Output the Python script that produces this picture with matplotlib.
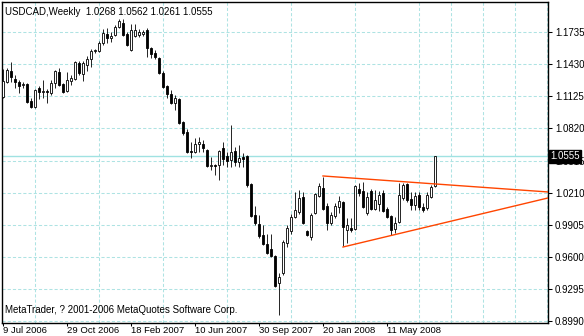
import matplotlib
matplotlib.use("Agg")
import matplotlib.pyplot as plt
import matplotlib.transforms as mtransforms
import numpy as np
import pandas as pd

plt.rcParams['font.family'] = ['Liberation Sans', 'DejaVu Sans']

# weekly USDCAD candles
dates = pd.date_range('2006-07-09', periods=109, freq='7D')

opens = [1.1118, 1.1261, 1.1365, 1.1289, 1.1261, 1.1232, 1.1242, 1.1080, 1.1023, 1.1204,
         1.1166, 1.1175, 1.1156, 1.1251, 1.1356, 1.1242, 1.1175, 1.1270, 1.1289, 1.1441,
         1.1337, 1.1422, 1.1479, 1.1555, 1.1555, 1.1631, 1.1717, 1.1679, 1.1707, 1.1783,
         1.1821, 1.1717, 1.1565, 1.1698, 1.1707, 1.1717, 1.1755, 1.1584, 1.1536, 1.1489,
         1.1346, 1.1223, 1.1147, 1.1061, 1.1099, 1.0881, 1.0786, 1.0605, 1.0596, 1.0672,
         1.0672, 1.0615, 1.0463, 1.0472, 1.0472, 1.0634, 1.0558, 1.0520, 1.0605, 1.0501,
         1.0548, 1.0558, 1.0292, 0.9997, 0.9912, 0.9807, 0.9722, 0.9674, 0.9608, 0.9351,
         0.9446, 0.9731, 0.9845, 0.9978, 1.0026, 1.0168, 0.9845, 0.9788, 1.0016, 1.0178,
         1.0254, 1.0083, 0.9921, 0.9988, 1.0073, 1.0121, 0.9855, 0.9874, 0.9864, 1.0244,
         1.0225, 1.0016, 1.0225, 1.0054, 1.0102, 1.0206, 1.0054, 0.9988, 0.9864, 0.9931,
         1.0159, 1.0292, 1.0149, 1.0092, 1.0187, 1.0073, 1.0064, 1.0168, 1.0268]
highs = [1.1384, 1.1394, 1.1450, 1.1327, 1.1280, 1.1261, 1.1251, 1.1109, 1.1194, 1.1223,
         1.1280, 1.1194, 1.1280, 1.1375, 1.1394, 1.1251, 1.1356, 1.1327, 1.1460, 1.1460,
         1.1460, 1.1508, 1.1574, 1.1574, 1.1650, 1.1764, 1.1774, 1.1736, 1.1802, 1.1859,
         1.1859, 1.1736, 1.1812, 1.1812, 1.1764, 1.1755, 1.1774, 1.1593, 1.1565, 1.1498,
         1.1365, 1.1232, 1.1185, 1.1137, 1.1109, 1.0890, 1.0814, 1.0691, 1.0729, 1.0738,
         1.0710, 1.0624, 1.0548, 1.0482, 1.0615, 1.0691, 1.0596, 1.0852, 1.0643, 1.0662,
         1.0586, 1.0567, 1.0301, 1.0083, 0.9997, 0.9902, 0.9817, 0.9817, 0.9617, 0.9446,
         0.9760, 0.9902, 1.0007, 1.0216, 1.0235, 1.0216, 0.9855, 1.0016, 1.0206, 1.0301,
         1.0358, 1.0111, 1.0026, 1.0111, 1.0178, 1.0130, 0.9969, 0.9969, 1.0282, 1.0301,
         1.0311, 1.0216, 1.0244, 1.0235, 1.0225, 1.0235, 1.0073, 0.9997, 0.9978, 1.0301,
         1.0301, 1.0301, 1.0216, 1.0216, 1.0216, 1.0111, 1.0216, 1.0282, 1.0562]
lows = [1.1109, 1.1251, 1.1261, 1.1204, 1.1156, 1.1204, 1.1061, 1.1014, 1.1014, 1.1099,
        1.1109, 1.1061, 1.1137, 1.1204, 1.1223, 1.1156, 1.1166, 1.1232, 1.1280, 1.1327,
        1.1270, 1.1365, 1.1403, 1.1536, 1.1546, 1.1612, 1.1631, 1.1641, 1.1698, 1.1774,
        1.1698, 1.1603, 1.1555, 1.1688, 1.1688, 1.1698, 1.1498, 1.1489, 1.1479, 1.1337,
        1.1204, 1.1109, 1.1052, 1.0995, 1.0862, 1.0757, 1.0586, 1.0539, 1.0586, 1.0596,
        1.0596, 1.0453, 1.0425, 1.0377, 1.0330, 1.0472, 1.0453, 1.0453, 1.0463, 1.0453,
        1.0453, 1.0263, 0.9978, 0.9902, 0.9779, 0.9712, 0.9627, 0.9598, 0.9313, 0.9047,
        0.9427, 0.9693, 0.9817, 0.9969, 1.0007, 0.9912, 0.9798, 0.9760, 1.0007, 1.0168,
        1.0045, 0.9855, 0.9902, 0.9969, 1.0016, 0.9703, 0.9731, 0.9836, 0.9855, 1.0178,
        1.0064, 0.9997, 1.0045, 1.0045, 1.0035, 1.0026, 0.9969, 0.9807, 0.9826, 0.9921,
        1.0140, 1.0121, 1.0045, 1.0045, 1.0045, 1.0026, 1.0045, 1.0159, 1.0261]
closes = [1.1270, 1.1375, 1.1308, 1.1261, 1.1223, 1.1242, 1.1071, 1.1023, 1.1185, 1.1166,
          1.1175, 1.1166, 1.1251, 1.1365, 1.1232, 1.1166, 1.1280, 1.1299, 1.1451, 1.1346,
          1.1441, 1.1479, 1.1555, 1.1565, 1.1631, 1.1726, 1.1679, 1.1698, 1.1783, 1.1840,
          1.1707, 1.1612, 1.1755, 1.1755, 1.1736, 1.1736, 1.1584, 1.1527, 1.1498, 1.1346,
          1.1213, 1.1147, 1.1061, 1.1109, 1.0871, 1.0776, 1.0596, 1.0596, 1.0672, 1.0691,
          1.0634, 1.0463, 1.0472, 1.0463, 1.0605, 1.0529, 1.0510, 1.0596, 1.0501, 1.0539,
          1.0529, 1.0282, 0.9988, 0.9921, 0.9798, 0.9722, 0.9636, 0.9608, 0.9323, 0.9408,
          0.9741, 0.9874, 0.9978, 1.0045, 1.0159, 0.9921, 0.9807, 0.9997, 1.0197, 1.0273,
          1.0054, 0.9921, 0.9997, 1.0083, 1.0130, 0.9883, 0.9902, 0.9855, 1.0273, 1.0206,
          1.0073, 1.0168, 1.0054, 1.0140, 1.0187, 1.0035, 0.9978, 0.9855, 0.9921, 1.0187,
          1.0282, 1.0140, 1.0092, 1.0178, 1.0073, 1.0045, 1.0187, 1.0263, 1.0555]

price_ticks = [0.8990, 0.9295, 0.9600, 0.9905, 1.0210, 1.0515, 1.0820, 1.1125, 1.1430, 1.1735]
label_weeks = [0, 16, 32, 48, 64, 80, 96]

# triangle trendlines (bar index, price)
upper_x = [80, 136.25]
upper_y = [1.0368, 1.0216]
lower_x = [85, 136.25]
lower_y = [0.9693, 1.0159]

grid_col = '#aee3e3'
W, H = 584, 336
fig = plt.figure(figsize=(W / 100, H / 100), dpi=100)
ax = fig.add_axes([2 / W, 13 / H, 546 / W, 321 / H])
ax.set_xlim(-0.25, 136.25)
ax.set_ylim(0.8971, 1.2021)

idx = np.arange(len(opens))
o = np.array(opens); c = np.array(closes)
up = c >= o
ax.vlines(idx, lows, highs, color='black', lw=0.6, zorder=3)
ax.bar(idx[up], (c - o)[up], bottom=o[up], width=0.6, facecolor='white',
       edgecolor='black', lw=0.6, zorder=4)
ax.bar(idx[~up], (o - c)[~up], bottom=c[~up], width=0.6, facecolor='black',
       edgecolor='black', lw=0.6, zorder=4)

ax.plot(upper_x, upper_y, color='#ff4500', lw=1.0, zorder=5)
ax.plot(lower_x, lower_y, color='#ff4500', lw=1.0, zorder=5)

# bid line
ax.axhline(closes[-1], color='#a0e2e2', lw=1.0, zorder=2)

# grid
ax.set_yticks(price_ticks)
ax.set_yticklabels(['%.4f' % p for p in price_ticks])
ax.set_xticks(label_weeks)
ax.set_xticklabels([d.strftime('%-d %b %Y') for d in dates[label_weeks]], ha='left')
ax.set_xticks(np.arange(0, 137, 8), minor=True)
ax.grid(True, which='minor', axis='x', color=grid_col, lw=0.75, ls=(0, (3, 2)))
ax.grid(True, which='major', axis='y', color=grid_col, lw=0.75, ls=(0, (3, 2)))
ax.set_axisbelow(True)

ax.yaxis.tick_right()
ax.tick_params(axis='y', which='major', length=3, width=0.75, pad=2, labelsize=7)
ax.tick_params(axis='x', which='major', length=2, width=0.75, pad=0.5, labelsize=6.8)
ax.tick_params(axis='x', which='minor', length=0)
for s in ax.spines.values():
    s.set_linewidth(1.0)

# current price box
trans = mtransforms.blended_transform_factory(ax.transAxes, ax.transData)
ax.text(1.004, closes[-1], '%.4f' % closes[-1], transform=trans, ha='left', va='center',
        fontsize=7, color='white', zorder=10,
        bbox=dict(boxstyle='square,pad=0.15', fc='black', ec='black'))

ax.text(0.006, 0.985, 'USDCAD,Weekly  %.4f %.4f %.4f %.4f' % (opens[-1], highs[-1], lows[-1], closes[-1]),
        transform=ax.transAxes, ha='left', va='top', fontsize=7)
ax.text(0.006, 0.025, 'MetaTrader, ? 2001-2006 MetaQuotes Software Corp.',
        transform=ax.transAxes, ha='left', va='bottom', fontsize=7)

fig.savefig('out.png', dpi=100)
